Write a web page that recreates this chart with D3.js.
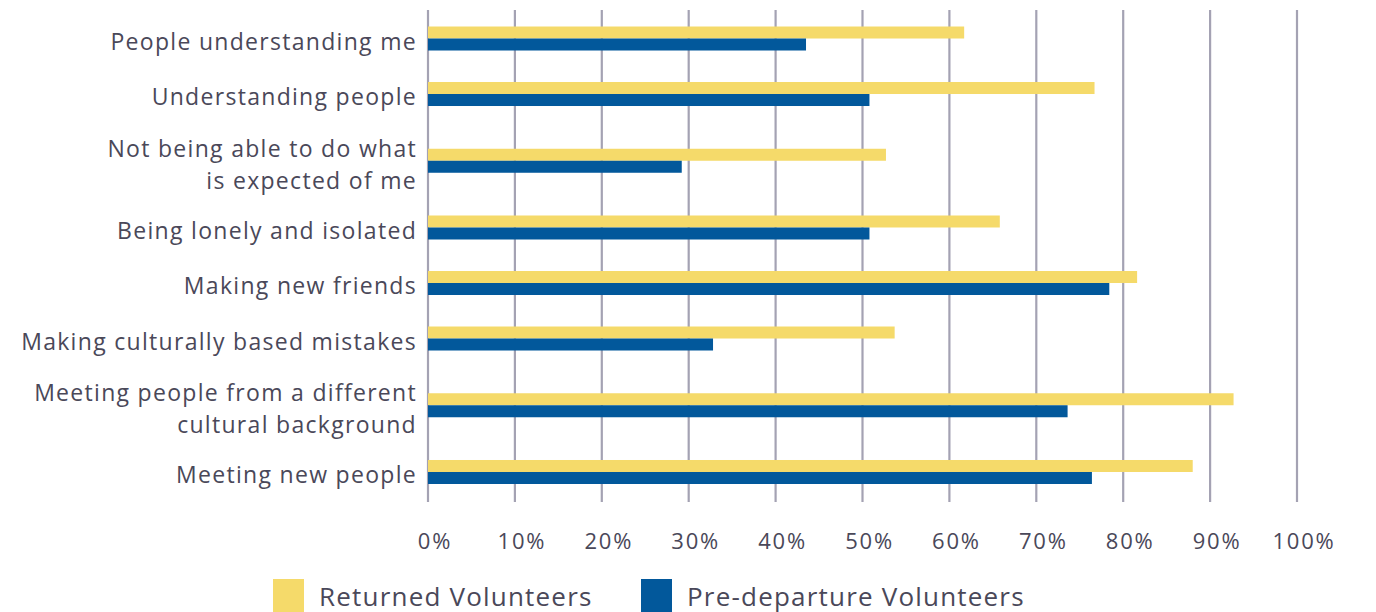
<!DOCTYPE html>
<html>
<head>
<meta charset="utf-8">
<script src="https://cdn.jsdelivr.net/npm/d3@7"></script>
<style>
  html, body { margin: 0; padding: 0; background: #fff; }
  svg { display: block; font-family: "Open Sans", sans-serif; }
</style>
</head>
<body>
<div id="chart"></div>
<script>
// chart data
var categories = [
    "People understanding me",
    "Understanding people",
    "Not being able to do what\nis expected of me",
    "Being lonely and isolated",
    "Making new friends",
    "Making culturally based mistakes",
    "Meeting people from a different\ncultural background",
    "Meeting new people"
];
var seriesNames = ["Returned Volunteers", "Pre-departure Volunteers"];
var returned = [61.7, 76.7, 52.7, 65.8, 81.6, 53.7, 92.7, 88.0];
var predeparture = [43.5, 50.8, 29.2, 50.8, 78.4, 32.8, 73.6, 76.4];
var xTicks = [0, 10, 20, 30, 40, 50, 60, 70, 80, 90, 100];
var colors = ["#f5da6a", "#02589b"];

function main() {
    var width = 1376, height = 612;
    var textColor = "#4a4859";

    var svg = d3.select("#chart")
        .append("svg")
        .attr("width", width)
        .attr("height", height);

    // x scale
    var x = d3.scaleLinear()
        .domain([0, 100])
        .range([428, 1297]);

    // rows with two-line labels are taller
    var rows = categories.map(function (c, i) {
        var lines = c.split("\n");
        return { name: c, lines: lines, w: lines.length > 1 ? 1.405 : 1, values: [returned[i], predeparture[i]] };
    });
    var cum = 0;
    rows.forEach(function (r) { r.start = cum; cum += r.w; });
    var y = d3.scaleLinear()
        .domain([0, cum])
        .range([10.75, 499.75]);
    var ySeries = d3.scaleBand()
        .domain(seriesNames)
        .range([-12, 12]);

    // gridlines
    svg.append("g")
        .selectAll("line")
        .data(xTicks)
        .enter()
        .append("line")
        .attr("x1", function (d) { return x(d); })
        .attr("x2", function (d) { return x(d); })
        .attr("y1", 10)
        .attr("y2", 502)
        .attr("stroke", "#a4a2b3")
        .attr("stroke-width", 2.2);

    // x tick labels
    svg.append("g")
        .selectAll("text")
        .data(xTicks)
        .enter()
        .append("text")
        .attr("x", function (d) { return x(d) + 7; })
        .attr("y", 541)
        .attr("dy", "0.35em")
        .attr("text-anchor", "middle")
        .attr("font-size", 22)
        .attr("letter-spacing", 1.8)
        .attr("fill", textColor)
        .text(function (d) { return d + "%"; });

    // bars
    var row = svg.append("g")
        .selectAll("g")
        .data(rows)
        .enter()
        .append("g")
        .attr("transform", function (d) { return "translate(0," + y(d.start + d.w / 2) + ")"; });

    row.selectAll("rect")
        .data(function (d) { return d.values.map(function (v, j) { return { s: seriesNames[j], v: v, c: colors[j] }; }); })
        .enter()
        .append("rect")
        .attr("x", x(0))
        .attr("y", function (d) { return ySeries(d.s); })
        .attr("width", function (d) { return x(d.v) - x(0); })
        .attr("height", ySeries.bandwidth())
        .attr("fill", function (d) { return d.c; });

    // category labels
    row.each(function (d) {
        var t = d3.select(this).append("text")
            .attr("text-anchor", "end")
            .attr("font-size", 23)
            .attr("letter-spacing", 1.3)
            .attr("fill", textColor);
        var n = d.lines.length;
        d.lines.forEach(function (line, k) {
            t.append("tspan")
                .attr("x", 417)
                .attr("y", (k - (n - 1) / 2) * 32 + (n > 1 ? 4 : 3))
                .attr("dy", "0.35em")
                .text(line);
        });
    });

    // legend
    var legendX = [273, 641];
    var legend = svg.append("g")
        .selectAll("g")
        .data(seriesNames)
        .enter()
        .append("g")
        .attr("transform", function (d, i) { return "translate(" + legendX[i] + ",579)"; });
    legend.append("rect")
        .attr("width", 31)
        .attr("height", 40)
        .attr("fill", function (d, i) { return colors[i]; });
    legend.append("text")
        .attr("x", 46)
        .attr("y", 27)
        .attr("font-size", 26)
        .attr("letter-spacing", 1.2)
        .attr("fill", textColor)
        .text(function (d) { return d; });
}

main();
</script>
</body>
</html>
